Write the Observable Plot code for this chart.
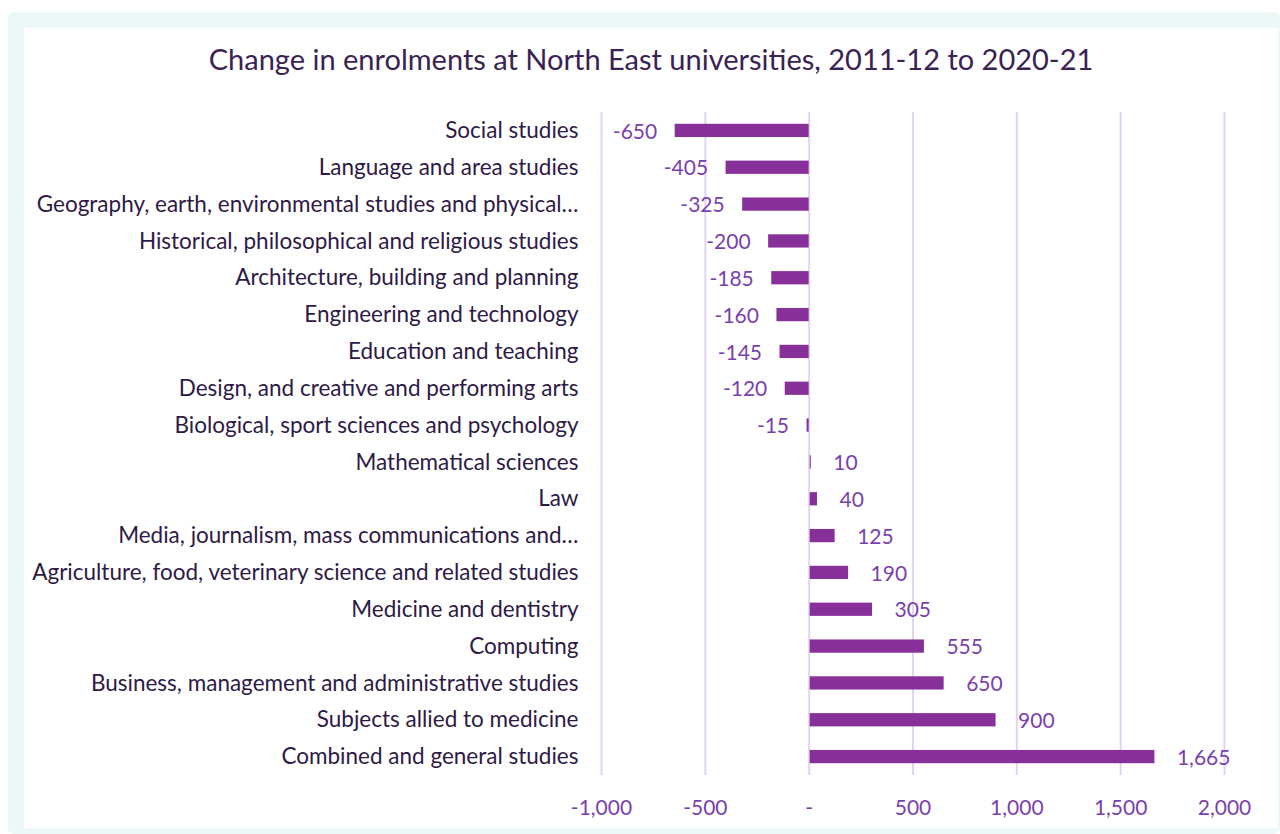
<!DOCTYPE html>
<html>
<head>
<meta charset="utf-8">
<script src="https://cdn.jsdelivr.net/npm/d3@7"></script>
<script src="https://cdn.jsdelivr.net/npm/@observablehq/plot@0.6"></script>
<style>
  html, body { margin: 0; padding: 0; background: #ffffff; width: 1280px; height: 834px; overflow: hidden; }
  #frame { position: absolute; left: 8px; top: 12px; width: 1272px; height: 822px; background: #ECF7F7; border-radius: 6px; }
  #inner { position: absolute; left: 24px; top: 28px; width: 1254px; height: 800px; background: #ffffff; }
  #title { position: absolute; left: 24px; top: 41px; width: 1254px; text-align: center; font-family: Lato, "Open Sans", sans-serif; font-size: 29px; line-height: 36px; color: #3A2352; }
  #chart { position: absolute; left: 0; top: 80px; }
</style>
</head>
<body>
<div id="frame"></div>
<div id="inner"></div>
<div id="title">Change in enrolments at North East universities, 2011-12 to 2020-21</div>
<div id="chart"></div>
<script>
const categories = [
  "Social studies",
  "Language and area studies",
  "Geography, earth, environmental studies and physical…",
  "Historical, philosophical and religious studies",
  "Architecture, building and planning",
  "Engineering and technology",
  "Education and teaching",
  "Design, and creative and performing arts",
  "Biological, sport sciences and psychology",
  "Mathematical sciences",
  "Law",
  "Media, journalism, mass communications and…",
  "Agriculture, food, veterinary science and related studies",
  "Medicine and dentistry",
  "Computing",
  "Business, management and administrative studies",
  "Subjects allied to medicine",
  "Combined and general studies"
];
const changes = [-650, -405, -325, -200, -185, -160, -145, -120, -15, 10, 40, 125, 190, 305, 555, 650, 900, 1665];
const xTicks = [-1000, -500, 0, 500, 1000, 1500, 2000];

const data = categories.map((c, i) => ({cat: c, value: changes[i]}));
const fmt = v => v === 0 ? "-" : (v < 0 ? "-" : "") + d3.format(",")(Math.abs(v));

const plot = Plot.plot({
  width: 1280,
  height: 754,
  marginLeft: 601,
  marginRight: 56,
  marginTop: 32,
  marginBottom: 59,
  style: {fontFamily: "Lato, 'Open Sans', sans-serif", background: "transparent"},
  x: {domain: [-1000, 2000], label: null},
  y: {domain: categories, paddingInner: 0.64, paddingOuter: 0.32, round: false, label: null},
  marks: [
    Plot.gridX(xTicks, {stroke: "#E2D4F0", strokeOpacity: 1, strokeWidth: 2}),
    Plot.axisX({ticks: xTicks, tickFormat: fmt, tickSize: 0, tickPadding: 25, fontSize: 21, fill: "#7A3FAE", color: "#7A3FAE", label: null}),
    Plot.axisY({tickSize: 0, tickPadding: 23, fontSize: 22.5, fill: "#2E1A45", color: "#2E1A45", label: null}),
    Plot.barX(data, {x1: 0, x2: "value", y: "cat", fill: "#87309A", insetLeft: 1}),
    Plot.text(data.filter(d => d.value < 0), {x: "value", y: "cat", text: d => fmt(d.value), textAnchor: "end", dx: -17, dy: 1, fontSize: 21, fill: "#7A3FAE"}),
    Plot.text(data.filter(d => d.value >= 0), {x: "value", y: "cat", text: d => fmt(d.value), textAnchor: "start", dx: 22, dy: 1, fontSize: 21, fill: "#7A3FAE"})
  ]
});
document.getElementById("chart").appendChild(plot);
</script>
</body>
</html>
